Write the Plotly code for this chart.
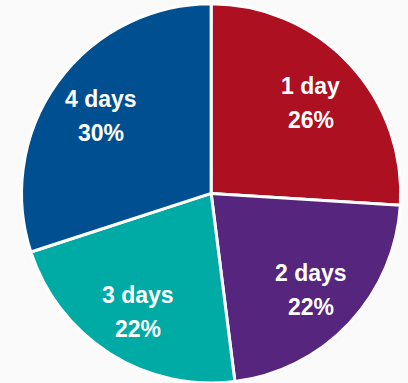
import math
import plotly.graph_objects as go

# Share of respondents by number of days
labels = ["1 day", "2 days", "3 days", "4 days"]
shares = [26, 22, 22, 30]
colors = ["#AD1021", "#56267E", "#00ABA6", "#005091"]

W, H = 408, 383
dom_x = [0.05, 0.985]
dom_y = [0.0, 0.99]

fig = go.Figure(
    go.Pie(
        labels=labels,
        values=shares,
        sort=False,
        direction="clockwise",
        rotation=0,
        marker=dict(colors=colors, line=dict(color="white", width=3)),
        textinfo="none",
        hoverinfo="label+percent",
        domain=dict(x=dom_x, y=dom_y),
        showlegend=False,
    )
)

# Place the slice labels along each slice's bisector, well out toward the rim
cx = (dom_x[0] + dom_x[1]) / 2 * W
cy = (dom_y[0] + dom_y[1]) / 2 * H
radius = min((dom_x[1] - dom_x[0]) * W, (dom_y[1] - dom_y[0]) * H) / 2
total = sum(shares)
label_r = 0.72 * radius
font = dict(family="Liberation Sans, Arial, sans-serif", size=23, color="white")

start = 0.0
for lab, val in zip(labels, shares):
    mid = (start + val / 2) / total * 2 * math.pi  # clockwise from 12 o'clock
    start += val
    px = cx + label_r * math.sin(mid)
    py = cy + label_r * math.cos(mid)
    pct = f"{round(val / total * 100)}%"
    for txt, shift in ((lab, 14), (pct, -20)):
        fig.add_annotation(
            x=px / W, y=py / H, xref="paper", yref="paper",
            text=f"<b>{txt}</b>", showarrow=False, font=font,
            xanchor="center", yanchor="middle", yshift=shift,
        )

fig.update_layout(
    width=W,
    height=H,
    margin=dict(l=0, r=0, t=0, b=0),
    paper_bgcolor="#FAFAFA",
    plot_bgcolor="#FAFAFA",
)

fig.write_html("out.html")
